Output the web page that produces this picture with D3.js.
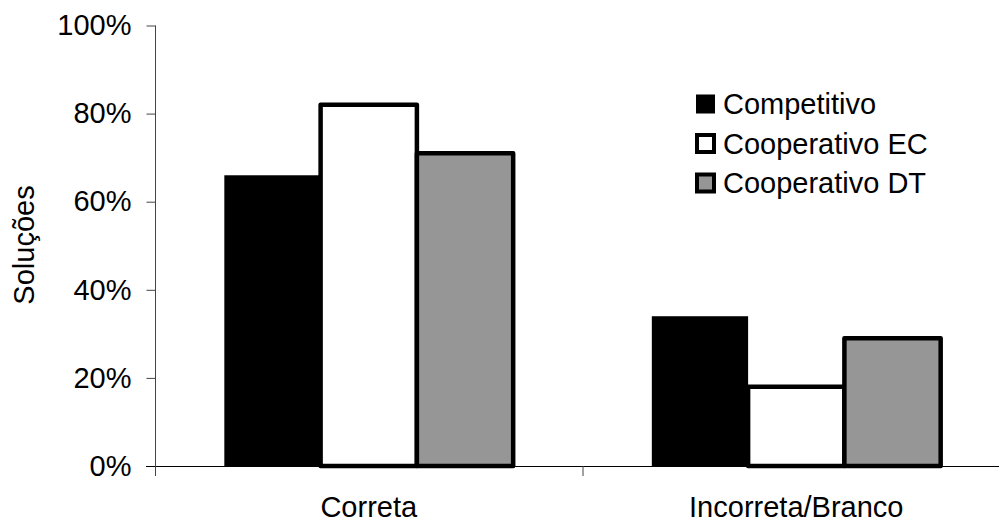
<!DOCTYPE html>
<html>
<head>
<meta charset="utf-8">
<script src="https://cdn.jsdelivr.net/npm/d3@7"></script>
<style>
  html, body { margin: 0; padding: 0; background: #fff; }
  svg { display: block; font-family: "Liberation Sans", Arial, sans-serif; }
</style>
</head>
<body>
<svg id="chart" width="999" height="522"></svg>
<script>
// ---- data ----
const categories = ["Correta", "Incorreta/Branco"];
const seriesNames = ["Competitivo", "Cooperativo EC", "Cooperativo DT"];
const competitivo = [66, 34];
const cooperativoEC = [82, 18];
const cooperativoDT = [71, 29];
const yTicks = [0, 20, 40, 60, 80, 100];
const yLabel = "Soluções";

const seriesValues = [competitivo, cooperativoEC, cooperativoDT];
const fills = ["#000000", "#ffffff", "#969696"];

const svg = d3.select("#chart");
const mLeft = 155, mRight = 1010, mTop = 25.5, mBottom = 466;

const y = d3.scaleLinear().domain([0, 100]).range([mBottom, mTop]);
const x0 = d3.scaleBand().domain(categories).range([mLeft, mRight]).paddingInner(0).paddingOuter(0);
const x1 = d3.scaleBand().domain(seriesNames).range([0, x0.bandwidth()]).paddingInner(0).paddingOuter(0.72);

// bars
const rows = [];
categories.forEach((c, ci) => {
  seriesNames.forEach((s, si) => {
    rows.push({ c, s, si, v: seriesValues[si][ci] });
  });
});

svg.append("g").selectAll("rect").data(rows).enter().append("rect")
  .attr("x", d => x0(d.c) + x1(d.s))
  .attr("y", d => y(d.v))
  .attr("width", x1.bandwidth())
  .attr("height", d => y(0) - y(d.v))
  .attr("fill", d => fills[d.si])
  .attr("stroke", "#000")
  .attr("stroke-width", d => d.si === 0 ? 0 : 4.5)
  .attr("stroke-linejoin", "round");

// y axis
const yAxis = d3.axisLeft(y).tickValues(yTicks).tickFormat(d => d + "%").tickSize(9).tickPadding(15);
const gy = svg.append("g").attr("transform", `translate(${mLeft + 0.5},0)`).call(yAxis);
gy.select(".domain").attr("stroke", "#444").attr("d", `M0,${mTop}V${mBottom + 9}`);
gy.selectAll(".tick line").attr("stroke", "#444");
gy.selectAll(".tick text").attr("font-size", 29).attr("fill", "#000")
  .attr("font-family", "'Liberation Sans', Arial, sans-serif");

// x axis
const xAxis = d3.axisBottom(x0).tickSize(0).tickPadding(30);
const gx = svg.append("g").attr("transform", `translate(0,${mBottom + 0.5})`).call(xAxis);
gx.select(".domain").attr("stroke", "#000").attr("d", `M${mLeft - 9},0H${mRight}`);
gx.selectAll(".tick text").attr("font-size", 29).attr("fill", "#000")
  .attr("font-family", "'Liberation Sans', Arial, sans-serif");

// category boundary ticks
const bounds = [mLeft, x0(categories[1]), mRight];
svg.append("g").selectAll("line").data(bounds).enter().append("line")
  .attr("x1", d => d + 0.5).attr("x2", d => d + 0.5)
  .attr("y1", mBottom).attr("y2", mBottom + 10)
  .attr("stroke", "#444");

// y label
svg.append("text")
  .attr("transform", `translate(34,245) rotate(-90)`)
  .attr("text-anchor", "middle")
  .attr("font-size", 29)
  .text(yLabel);

// legend
const lg = svg.append("g");
const legY = [104, 143.5, 183];
seriesNames.forEach((s, i) => {
  lg.append("rect")
    .attr("x", 697).attr("y", legY[i] - 8.5)
    .attr("width", 17).attr("height", 17)
    .attr("fill", fills[i])
    .attr("stroke", "#000").attr("stroke-width", i === 0 ? 2 : 4);
  lg.append("text")
    .attr("x", 723).attr("y", legY[i])
    .attr("dominant-baseline", "central")
    .attr("font-size", 29)
    .text(s);
});
</script>
</body>
</html>
